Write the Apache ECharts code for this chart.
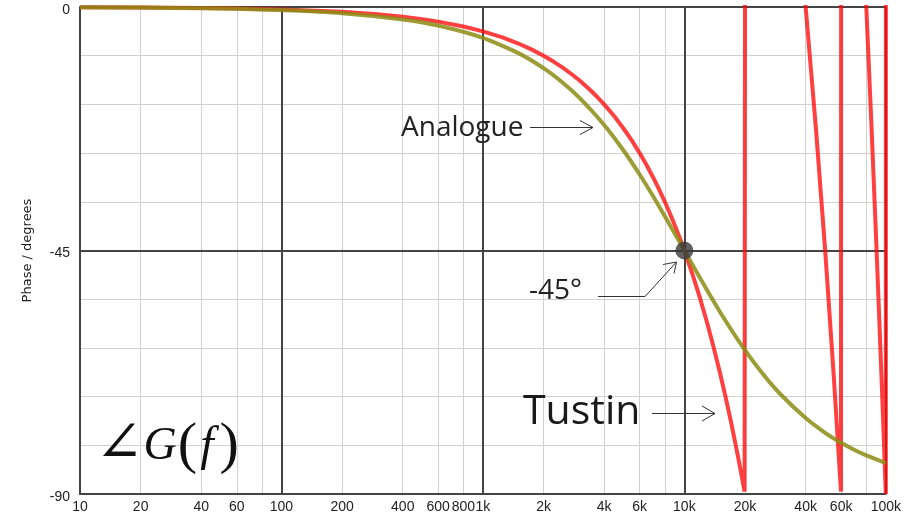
<!DOCTYPE html>
<html>
<head>
<meta charset="utf-8">
<script src="https://cdn.jsdelivr.net/npm/echarts@6/dist/echarts.min.js"></script>
<style>html,body{margin:0;padding:0;background:#fff}#c{width:904px;height:520px}</style>
</head>
<body>
<div id="c"></div>
<script>
// Frequencies (Hz) and phase (degrees)
const freqAnalogue = [10,20,40,60,100,200,400,600,1000,1500,2000,2500,3000,4000,5000,6000,7000,8000,9000,10000,12000,15000,20000,25000,30000,40000,50000,60000,70000,80000,100000];
const phaseAnalogue = [-0.06,-0.11,-0.23,-0.34,-0.57,-1.15,-2.29,-3.43,-5.71,-8.53,-11.31,-14.04,-16.70,-21.80,-26.57,-30.96,-34.99,-38.66,-41.99,-45,-50.19,-56.31,-63.43,-68.20,-71.57,-75.96,-78.69,-80.54,-81.87,-82.87,-84.29];

const freqTustin = [10,20,40,60,100,200,300,400,500,600,800,1000,1250,1500,1750,2000,2250,2500,2750,3000,3250,3500,3750,4000,4500,5000,5500,6000,6500,7000,7500,8000,8500,9000,9500,10000,11000,12000,13000,14000,15000,16000,17000,18000,19000,19900,20100,30000,39900,40100,45000,50000,55000,59900,60100,70000,79900,80100,85000,90000,95000,99900,100000,100100];
const phaseTustin = [-0.045,-0.09,-0.18,-0.27,-0.45,-0.9,-1.35,-1.8,-2.25,-2.7,-3.6,-4.5,-5.63,-6.75,-7.88,-9,-10.13,-11.25,-12.38,-13.5,-14.63,-15.75,-16.88,-18,-20.25,-22.5,-24.75,-27,-29.25,-31.5,-33.75,-36,-38.25,-40.5,-42.75,-45,-49.5,-54,-58.5,-63,-67.5,-72,-76.5,-81,-85.5,-89.55,89.55,45,0.45,-0.45,-22.5,-45,-67.5,-89.55,89.55,45,0.45,-0.45,-22.5,-45,-67.5,-89.55,-90,89.55];

const crossingPoint = [10000, -45];
const xTickLabels = [10,20,40,60,100,200,400,600,800,1000,2000,4000,6000,10000,20000,40000,60000,100000];
const xMinorGrid = [20,40,60,80,200,400,600,800,2000,4000,6000,8000,20000,40000,60000,80000];
const yMajorTicks = [-90,-45,0];

const zip = (a, b) => a.map((v, i) => [v, b[i]]);
const fmtFreq = v => v >= 1000 ? (v / 1000) + 'k' : String(v);
const tickFont = 'Liberation Sans';

const chart = echarts.init(document.getElementById('c'), null, {renderer: 'canvas'});
const option = {
  animation: false,
  backgroundColor: '#ffffff',
  grid: {left: 80, right: 18, top: 7, bottom: 26, containLabel: false},
  xAxis: {
    type: 'log', logBase: 10, min: 10, max: 100000, z: 2,
    axisLine: {show: true, onZero: false, lineStyle: {color: '#444', width: 2}},
    axisTick: {show: false},
    splitLine: {show: true, lineStyle: {color: '#444', width: 2}},
    axisLabel: {
      customValues: xTickLabels, interval: 0, hideOverlap: false,
      formatter: v => fmtFreq(Math.round(v)),
      color: '#222', fontFamily: tickFont, fontSize: 14, margin: 6
    }
  },
  yAxis: [
    {
      type: 'value', min: -90, max: 0, interval: 9, z: 0,
      axisLine: {show: false}, axisTick: {show: false}, axisLabel: {show: false},
      splitLine: {show: true, lineStyle: {color: '#d0d0d0', width: 1}}
    },
    {
      type: 'value', min: -90, max: 0, interval: 45, z: 2, position: 'left',
      axisLine: {show: true, lineStyle: {color: '#444', width: 2}},
      axisTick: {show: false},
      splitLine: {show: true, lineStyle: {color: '#444', width: 2}},
      axisLabel: {color: '#222', fontFamily: tickFont, fontSize: 14, margin: 10,
        formatter: v => yMajorTicks.includes(v) ? '{v|' + v + '}' : '',
        rich: {v: {fontFamily: tickFont, fontSize: 14, color: '#222', padding: [6, 0, 0, 0]}}},
      name: 'Phase / degrees', nameLocation: 'middle', nameGap: 46, nameRotate: 90,
      nameTextStyle: {color: '#222', fontFamily: 'DejaVu Sans', fontSize: 13}
    }
  ],
  series: [
    {
      type: 'line', data: [], silent: true, z: 1,
      markLine: {
        silent: true, z: 1, symbol: ['none', 'none'], label: {show: false},
        lineStyle: {color: '#d0d0d0', width: 1, type: 'solid'},
        emphasis: {disabled: true},
        data: xMinorGrid.map(v => ({xAxis: v}))
      }
    },
    {
      name: 'Tustin', type: 'line', yAxisIndex: 1, data: zip(freqTustin, phaseTustin),
      showSymbol: false, z: 3, clip: true,
      lineStyle: {color: 'rgba(255,10,10,0.78)', width: 4}
    },
    {
      name: 'Analogue', type: 'line', yAxisIndex: 1, data: zip(freqAnalogue, phaseAnalogue),
      showSymbol: false, smooth: 0.2, z: 4,
      lineStyle: {color: 'rgba(140,140,20,0.85)', width: 4}
    },
    {
      type: 'scatter', yAxisIndex: 1, data: [crossingPoint], symbolSize: 18, z: 5,
      itemStyle: {color: '#3a3a3a'}
    }
  ],
  graphic: [
    {type: 'text', z: 10, style: {x: 401, y: 128, text: 'Analogue', font: '28px "Open Sans"', fill: '#222', textVerticalAlign: 'middle'}},
    {type: 'polyline', z: 10, shape: {points: [[530, 127.5], [593, 127.5]]}, style: {stroke: '#333', lineWidth: 1, fill: null}},
    {type: 'polyline', z: 10, shape: {points: [[580, 120.5], [593, 127.5], [580, 134.5]]}, style: {stroke: '#333', lineWidth: 1, fill: null}},

    {type: 'text', z: 10, style: {x: 529, y: 291, text: '-45°', font: '28px "Open Sans"', fill: '#222', textVerticalAlign: 'middle'}},
    {type: 'polyline', z: 10, shape: {points: [[598, 296.5], [645, 296.5], [676.5, 262]]}, style: {stroke: '#333', lineWidth: 1, fill: null}},
    {type: 'polyline', z: 10, shape: {points: [[663, 264.5], [676.5, 262], [674, 273.5]]}, style: {stroke: '#333', lineWidth: 1, fill: null}},

    {type: 'text', z: 10, style: {x: 523, y: 412, text: 'Tustin', font: '41px "Open Sans"', fill: '#1a1a1a', textVerticalAlign: 'middle'}},
    {type: 'polyline', z: 10, shape: {points: [[652, 413.5], [715, 413.5]]}, style: {stroke: '#333', lineWidth: 1, fill: null}},
    {type: 'polyline', z: 10, shape: {points: [[702, 406], [715, 413.5], [702, 421]]}, style: {stroke: '#333', lineWidth: 1, fill: null}},

    {type: 'text', z: 10, style: {
      x: 95, y: 447, textVerticalAlign: 'middle',
      text: '{a|∠}{g|G}{p|(}{f|f}{p|)}',
      rich: {
        a: {fontFamily: 'DejaVu Serif', fontSize: 58, fill: '#111'},
        g: {fontFamily: 'Liberation Serif', fontStyle: 'italic', fontSize: 46, fill: '#111', padding: [0, 1, 0, 0]},
        p: {fontFamily: 'Liberation Serif', fontSize: 58, fill: '#111'},
        f: {fontFamily: 'Liberation Serif', fontStyle: 'italic', fontSize: 48, fill: '#111', padding: [0, 6, 0, 3]}
      }
    }}
  ]
};
chart.setOption(option);
</script>
</body>
</html>
